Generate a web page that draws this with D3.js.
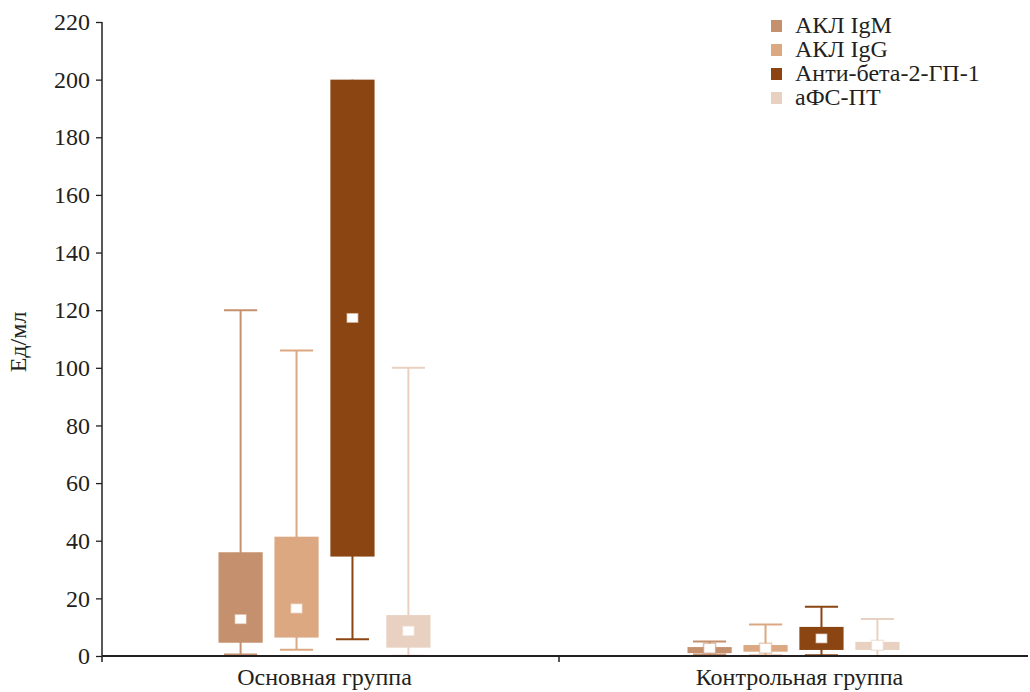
<!DOCTYPE html>
<html>
<head>
<meta charset="utf-8">
<script src="https://cdn.jsdelivr.net/npm/d3@7"></script>
<style>
  html, body { margin: 0; padding: 0; background: #fff; }
  svg { display: block; }
  svg text { font-family: "Liberation Serif", "DejaVu Serif", serif !important; fill: #231f20; }
</style>
</head>
<body>
<svg id="chart" width="1030" height="692"></svg>
<script>
// Groups and antibody series
const groups = ["Основная группа", "Контрольная группа"];
const series = ["АКЛ IgM", "АКЛ IgG", "Анти-бета-2-ГП-1", "аФС-ПТ"];
const colors = ["#c4906e", "#dba882", "#8b4513", "#e8d1c1"];

// Box statistics per series, one value per group (Ед/мл)
const whiskerLow  = [[0.5, 0.5], [2.2, 0.2], [5.8, 0.3], [0.1, 0.0]];
const boxLow      = [[4.6, 1.0], [6.4, 1.5], [34.5, 2.1], [2.9, 2.1]];
const median      = [[12.8, 2.7], [16.5, 2.7], [117.3, 6.1], [8.7, 3.7]];
const boxHigh     = [[36.0, 3.1], [41.4, 3.8], [200.0, 10.1], [14.2, 4.9]];
const whiskerHigh = [[120.0, 5.0], [106.0, 10.9], [200.0, 17.1], [100.0, 12.8]];

const yTicks = [0, 20, 40, 60, 80, 100, 120, 140, 160, 180, 200, 220];

const FONT = "'Liberation Serif', 'DejaVu Serif', serif";
const FS = 24;
const svg = d3.select("#chart");
const plotLeft = 102, plotRight = 1028, plotTop = 22, plotBottom = 656;

const y = d3.scaleLinear().domain([0, 220]).range([plotBottom, plotTop]);
const x0 = d3.scaleBand().domain(groups).range([90, 1028]);
const x1 = d3.scaleBand().domain(series).range([-106, 106]).paddingInner(0.21).paddingOuter(0);

// Records for drawing
const records = [];
groups.forEach((g, gi) => {
  series.forEach((s, si) => {
    records.push({
      group: g, series: s, color: colors[si],
      wl: whiskerLow[si][gi], bl: boxLow[si][gi], med: median[si][gi],
      bh: boxHigh[si][gi], wh: whiskerHigh[si][gi]
    });
  });
});

const bw = x1.bandwidth();
const capW = bw * 0.75;
const cx = d => x0(d.group) + x0.bandwidth() / 2 + x1(d.series) + bw / 2;

const plot = svg.append("g");
const items = plot.selectAll("g.item").data(records).join("g").attr("class", "item");

// whisker stem
items.append("line")
  .attr("x1", cx).attr("x2", cx)
  .attr("y1", d => y(d.wl)).attr("y2", d => y(d.wh))
  .attr("stroke", d => d.color).attr("stroke-width", 2);
// caps (skipped where the whisker ends at the box edge)
items.filter(d => d.wl < d.bl).append("line")
  .attr("x1", d => cx(d) - capW / 2).attr("x2", d => cx(d) + capW / 2)
  .attr("y1", d => y(d.wl)).attr("y2", d => y(d.wl))
  .attr("stroke", d => d.color).attr("stroke-width", 2);
items.filter(d => d.wh > d.bh).append("line")
  .attr("x1", d => cx(d) - capW / 2).attr("x2", d => cx(d) + capW / 2)
  .attr("y1", d => y(d.wh)).attr("y2", d => y(d.wh))
  .attr("stroke", d => d.color).attr("stroke-width", 2);
// box
items.append("rect")
  .attr("x", d => cx(d) - bw / 2).attr("width", bw)
  .attr("y", d => y(d.bh)).attr("height", d => y(d.bl) - y(d.bh))
  .attr("fill", d => d.color);
// median marker
items.append("rect")
  .attr("x", d => cx(d) - 6).attr("width", 12)
  .attr("y", d => y(d.med) - 5).attr("height", 10)
  .attr("fill", "#fff")
  .attr("stroke", d => d.color).attr("stroke-opacity", 0.55).attr("stroke-width", 1.5);

// y axis
const yAxis = d3.axisLeft(y).tickValues(yTicks).tickSize(6).tickPadding(6);
const gy = svg.append("g").attr("transform", `translate(${plotLeft},0)`).call(yAxis)
  .attr("font-family", FONT).attr("font-size", FS);
gy.select(".domain").remove();
gy.append("line").attr("x1", 0).attr("x2", 0).attr("y1", plotTop).attr("y2", plotBottom + 6)
  .attr("stroke", "#231f20").attr("stroke-width", 1.5);
gy.selectAll(".tick line").attr("stroke", "#231f20").attr("stroke-width", 1.3);
gy.selectAll(".tick text").attr("fill", "#231f20");

// x axis
const gx = svg.append("g").attr("transform", `translate(0,${plotBottom})`)
  .attr("font-family", FONT);
gx.append("line").attr("x1", plotLeft).attr("x2", plotRight).attr("y1", 0).attr("y2", 0)
  .attr("stroke", "#231f20").attr("stroke-width", 1.8);
gx.append("line")
  .attr("x1", x0(groups[1])).attr("x2", x0(groups[1]))
  .attr("y1", 0).attr("y2", 6).attr("stroke", "#231f20").attr("stroke-width", 1.5);
gx.selectAll("text.xl").data(groups).join("text").attr("class", "xl")
  .attr("x", g => x0(g) + x0.bandwidth() / 2 + (g === groups[1] ? 6 : 0))
  .attr("y", 29).attr("text-anchor", "middle").attr("font-size", FS).text(g => g);

// y title
svg.append("text")
  .attr("transform", "translate(26,342) rotate(-90)")
  .attr("font-family", FONT)
  .attr("text-anchor", "middle").attr("font-size", FS).text("Ед/мл");

// legend
const lg = svg.append("g").attr("transform", "translate(771,20)").attr("font-family", FONT);
const li = lg.selectAll("g").data(series).join("g")
  .attr("transform", (d, i) => `translate(0,${i * 24})`);
li.append("rect").attr("width", 11).attr("height", 12).attr("fill", (d, i) => colors[i]);
li.append("text").attr("x", 24).attr("y", 13).attr("font-size", FS).text(d => d);
</script>
</body>
</html>
